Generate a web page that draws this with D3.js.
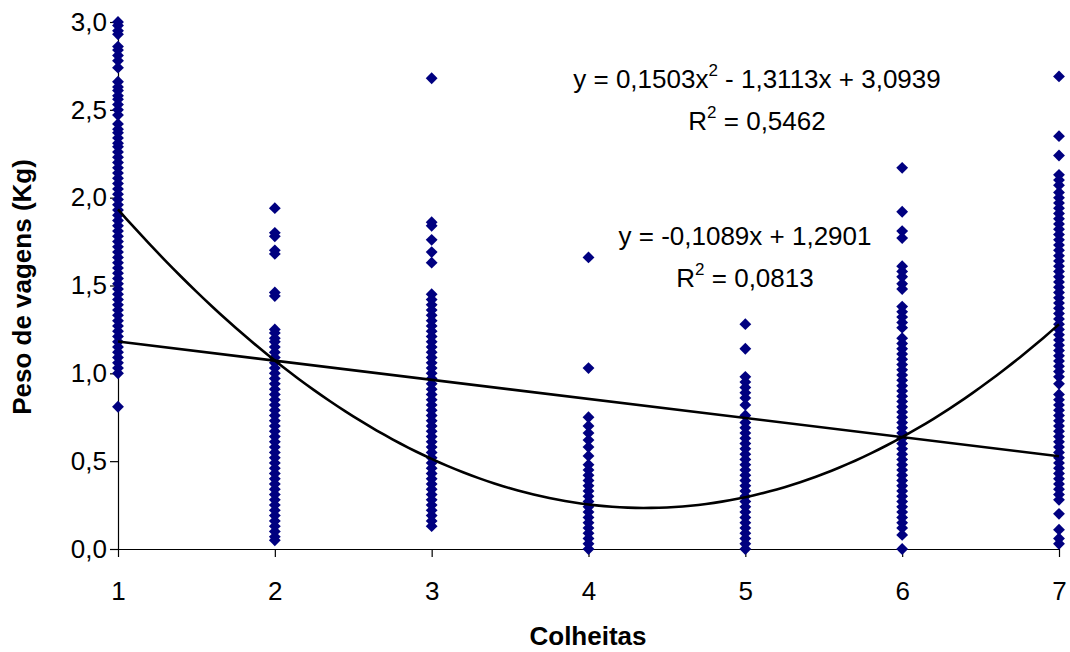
<!DOCTYPE html>
<html lang="pt">
<head>
<meta charset="UTF-8">
<title>Peso de vagens por colheita</title>
<script src="https://d3js.org/d3.v7.min.js"></script>
<style>
  body { margin: 0; background: #fff; }
  text { font-family: "Liberation Sans", Arial, sans-serif; fill: #000; }
</style>
</head>
<body>
<svg class="chart" width="1070" height="652"></svg>
<script>
// peso de vagens (Kg) lido em cada colheita
const colheita1 = [3.00, 2.98, 2.95, 2.93, 2.86, 2.84, 2.81, 2.78, 2.74, 2.66, 2.63, 2.61, 2.58, 2.56, 2.53, 2.50, 2.47, 2.42, 2.39, 2.37, 2.34, 2.31, 2.29, 2.26, 2.23, 2.20, 2.17, 2.14, 2.11, 2.08, 2.05, 2.02, 1.99, 1.96, 1.93, 1.90, 1.87, 1.84, 1.81, 1.78, 1.75, 1.72, 1.69, 1.66, 1.63, 1.60, 1.57, 1.54, 1.51, 1.48, 1.45, 1.42, 1.39, 1.36, 1.33, 1.30, 1.27, 1.24, 1.21, 1.18, 1.15, 1.12, 1.09, 1.06, 1.03, 1.00, 0.81];
const colheita2 = [1.94, 1.80, 1.78, 1.70, 1.68, 1.46, 1.44, 1.25, 1.23, 1.20, 1.18, 1.15, 1.12, 1.09, 1.06, 1.03, 1.00, 0.97, 0.94, 0.91, 0.88, 0.85, 0.82, 0.79, 0.76, 0.73, 0.70, 0.67, 0.64, 0.61, 0.58, 0.55, 0.52, 0.49, 0.46, 0.43, 0.40, 0.37, 0.34, 0.31, 0.28, 0.25, 0.22, 0.19, 0.16, 0.13, 0.10, 0.07, 0.05];
const colheita3 = [2.68, 1.86, 1.84, 1.76, 1.69, 1.63, 1.45, 1.42, 1.39, 1.36, 1.33, 1.30, 1.27, 1.24, 1.21, 1.18, 1.15, 1.12, 1.09, 1.06, 1.03, 1.00, 0.97, 0.94, 0.91, 0.88, 0.85, 0.82, 0.79, 0.76, 0.73, 0.70, 0.67, 0.64, 0.61, 0.58, 0.55, 0.52, 0.49, 0.46, 0.43, 0.40, 0.37, 0.34, 0.31, 0.28, 0.25, 0.22, 0.19, 0.16, 0.13];
const colheita4 = [1.66, 1.03, 0.75, 0.70, 0.66, 0.62, 0.58, 0.53, 0.48, 0.45, 0.42, 0.39, 0.36, 0.33, 0.30, 0.27, 0.24, 0.21, 0.18, 0.15, 0.12, 0.09, 0.06, 0.03, 0.00];
const colheita5 = [1.28, 1.14, 0.98, 0.95, 0.92, 0.89, 0.86, 0.82, 0.76, 0.72, 0.69, 0.66, 0.63, 0.60, 0.57, 0.54, 0.51, 0.48, 0.45, 0.42, 0.39, 0.36, 0.33, 0.30, 0.27, 0.24, 0.21, 0.18, 0.15, 0.12, 0.09, 0.06, 0.03, 0.00];
const colheita6 = [2.17, 1.92, 1.81, 1.77, 1.61, 1.58, 1.55, 1.51, 1.48, 1.38, 1.35, 1.32, 1.29, 1.26, 1.20, 1.17, 1.14, 1.11, 1.08, 1.05, 1.02, 0.99, 0.96, 0.93, 0.90, 0.87, 0.84, 0.81, 0.78, 0.75, 0.72, 0.69, 0.66, 0.63, 0.60, 0.57, 0.54, 0.51, 0.48, 0.45, 0.42, 0.39, 0.36, 0.33, 0.30, 0.27, 0.24, 0.21, 0.18, 0.15, 0.12, 0.08, 0.00];
const colheita7 = [2.69, 2.35, 2.24, 2.13, 2.10, 2.07, 2.03, 2.00, 1.97, 1.94, 1.91, 1.88, 1.85, 1.82, 1.79, 1.76, 1.73, 1.70, 1.67, 1.64, 1.61, 1.58, 1.55, 1.52, 1.49, 1.46, 1.43, 1.40, 1.37, 1.34, 1.31, 1.28, 1.25, 1.22, 1.19, 1.16, 1.13, 1.10, 1.07, 1.04, 1.01, 0.98, 0.94, 0.88, 0.85, 0.82, 0.79, 0.76, 0.73, 0.70, 0.67, 0.64, 0.61, 0.58, 0.55, 0.52, 0.49, 0.46, 0.43, 0.40, 0.37, 0.34, 0.31, 0.28, 0.20, 0.11, 0.06, 0.03];
const colheitas = [colheita1, colheita2, colheita3, colheita4, colheita5, colheita6, colheita7];

// linhas de tendência (coeficientes das equações do gráfico)
const coefPolinomial = [3.0939, -1.3113, 0.1503]; // a0, a1, a2
const coefLinear = [1.2901, -0.1089];

const xTicks = [1, 2, 3, 4, 5, 6, 7];
const yTicks = [0, 0.5, 1.0, 1.5, 2.0, 2.5, 3.0];

const svg = d3.select('.chart');
const x = d3.scaleLinear().domain([1, 7]).range([118, 1059]);
const y = d3.scaleLinear().domain([0, 3]).range([549, 22]);
const fmt = d => d3.format('.1f')(d).replace('.', ',');

// eixos
const yAxis = svg.append('g')
    .attr('transform', `translate(${x(1)},0)`)
    .call(d3.axisLeft(y).tickValues(yTicks).tickFormat(fmt).tickSize(8).tickSizeOuter(0));
const xAxis = svg.append('g')
    .attr('transform', `translate(0,${y(0)})`)
    .call(d3.axisBottom(x).tickValues(xTicks).tickFormat(d3.format('d')).tickSize(8).tickSizeOuter(0));

[xAxis, yAxis].forEach(a => {
    a.select('.domain').attr('stroke', '#000').attr('stroke-width', 1.2);
    a.selectAll('.tick line').attr('stroke', '#000').attr('stroke-width', 1.2);
    a.selectAll('.tick text').style('font-size', '26px').attr('fill', '#000')
        .style('font-family', '"Liberation Sans", Arial, sans-serif');
});
yAxis.selectAll('.tick text').attr('x', -11);
xAxis.selectAll('.tick text').attr('y', 33);

// pontos
const pontos = [];
colheitas.forEach((vals, i) => vals.forEach(v => pontos.push({ c: xTicks[i], v: v })));
const diamante = d3.symbol().type(d3.symbolSquare).size(70);
svg.append('g').selectAll('path')
    .data(pontos)
    .join('path')
    .attr('d', diamante)
    .attr('transform', d => `translate(${x(d.c)},${y(d.v)}) rotate(45)`)
    .attr('fill', '#000080');

// tendências
const poli = c => coefPolinomial[0] + coefPolinomial[1] * c + coefPolinomial[2] * c * c;
const lin = c => coefLinear[0] + coefLinear[1] * c;
const xs = d3.range(1, 7.0001, 0.05);
const line = d3.line().x(d => x(d[0])).y(d => y(d[1]));
svg.append('path')
    .attr('d', line(xs.map(c => [c, poli(c)])))
    .attr('fill', 'none').attr('stroke', '#000').attr('stroke-width', 2.6);
svg.append('path')
    .attr('d', line([[1, lin(1)], [7, lin(7)]]))
    .attr('fill', 'none').attr('stroke', '#000').attr('stroke-width', 2.6);

// equações
function rotulo(cx, by, partes) {
    const t = svg.append('text').attr('x', cx).attr('y', by)
        .attr('text-anchor', 'middle').style('font-size', '26px');
    partes.forEach(p => {
        if (p.sup) {
            t.append('tspan').attr('dy', -12).style('font-size', '17px').text(p.t);
        } else {
            t.append('tspan').attr('dy', p.down ? 12 : 0).text(p.t);
        }
    });
}
rotulo(757, 88, [{ t: 'y = 0,1503x' }, { t: '2', sup: true }, { t: ' - 1,3113x + 3,0939', down: true }]);
rotulo(757, 130, [{ t: 'R' }, { t: '2', sup: true }, { t: ' = 0,5462', down: true }]);
rotulo(745, 245, [{ t: 'y = -0,1089x + 1,2901' }]);
rotulo(745, 287, [{ t: 'R' }, { t: '2', sup: true }, { t: ' = 0,0813', down: true }]);

// títulos dos eixos
svg.append('text')
    .attr('x', 588).attr('y', 645)
    .attr('text-anchor', 'middle')
    .style('font-size', '26px').style('font-weight', 'bold')
    .text('Colheitas');
svg.append('text')
    .attr('transform', 'translate(31,287) rotate(-90)')
    .attr('text-anchor', 'middle')
    .style('font-size', '26px').style('font-weight', 'bold')
    .text('Peso de vagens (Kg)');
</script>
</body>
</html>
